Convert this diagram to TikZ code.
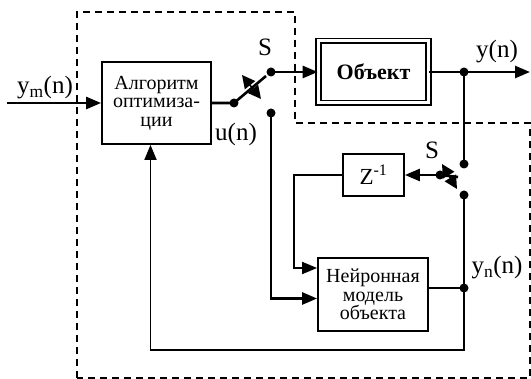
\documentclass[tikz,border=0pt]{standalone}
\usepackage{fontspec}
\setmainfont{Liberation Serif}
\usetikzlibrary{arrows.meta}
\newcommand{\boxfont}{\fontsize{20}{18.5}\selectfont}
\newcommand{\lblfont}{\fontsize{25}{25}\selectfont}
\begin{document}
\begin{tikzpicture}[x=1pt, y=-1pt,
    >={Triangle[length=15pt, width=12pt]},
    blockbox/.style={draw, line width=1.8pt, inner sep=0pt, align=center, font=\boxfont},
    sig/.style={line width=2.6pt},
    sigthin/.style={line width=1.8pt},
    toggle/.style={line width=1.5pt, {Triangle[length=13pt, width=13pt]}-{Triangle[length=13pt, width=13pt]}},
    region/.style={dashed, line width=1.3pt, dash pattern=on 7pt off 5pt},
    lbl/.style={font=\lblfont, inner sep=0pt}]

  \useasboundingbox (0,0) rectangle (531,379);

  % === Dashed regions ===
  \draw[region] (77,378) -- (77,12) -- (295,12) -- (295,123) -- (530,123) -- (530,378) -- cycle;

  % === Blocks ===
  \node[blockbox, minimum width=109pt, minimum height=82pt] (alg) at (156.5,103)
    {Алгоритм\\оптимиза-\\ции};
  \node[blockbox, font=\fontsize{22}{22}\selectfont\bfseries, double, double distance=3pt,
    line width=1.6pt, minimum width=110pt, minimum height=62pt] (obj) at (373.5,72) {Объект};
  \node[blockbox, font=\fontsize{23}{23}\selectfont, minimum width=61pt, minimum height=42pt]
    (zinv) at (373.5,175) {Z\textsuperscript{-1}};
  \node[blockbox, minimum width=110pt, minimum height=73pt] (nm) at (373,294.5)
    {Нейронная\\модель\\объекта};

  % === Switch contacts ===
  \coordinate (in) at (7,103);
  \coordinate (swA) at (234,103);
  \coordinate (swAt) at (271,72);
  \coordinate (swAb) at (271,113);
  \coordinate (swAe) at (266,76);
  \coordinate (tap) at (464,72);
  \coordinate (yout) at (530,72);
  \coordinate (swBt) at (464,164);
  \coordinate (swBl) at (440,175);
  \coordinate (swBb) at (464,195);
  \coordinate (swBe) at (458,177);
  \coordinate (tapn) at (464,288);
  \coordinate (fb) at (464,350);

  % === Connectors ===
  \draw[sig,->] (in) -- (alg.west);
  \draw[sig] (alg.east) -- (swA) -- (swAe);
  \draw[toggle] (242,75) -- (261,99);
  \draw[sig,->] (swAt) -- (obj.west);
  \draw[sig] (obj.east) -- (tap);
  \draw[sig,->] (tap) -- (yout);
  \draw[sig] (tap) -- (swBt);
  \draw[sig,->] (swBl) -- (zinv.east);
  \draw[sig] (swBl) -- (swBe);
  \draw[toggle] (442,164) -- (457,189);
  \draw[sigthin,->] (zinv.west) -- ++(-48,0) |- ([yshift=26.5pt]nm.west);
  \draw[sig,->] (swAb) |- ([yshift=-4pt]nm.west);
  \draw[sigthin] ([yshift=6.5pt]nm.east) -- (tapn);
  \draw[sig] (swBb) -- (tapn);
  \draw[sigthin,->] (tapn) -- (fb) -| ([xshift=-6pt]alg.south);

  % === Contact dots ===
  \foreach \pt in {swA, swAt, swAb, tap, swBt, swBl, swBb, tapn}
    \fill (\pt) circle (4.5pt);

  % === Labels ===
  \node[lbl] at (45,88) {y\textsubscript{m}(n)};
  \node[lbl] at (265,47) {S};
  \node[lbl] at (236,134) {u(n)};
  \node[lbl] at (497,52) {y(n)};
  \node[lbl] at (432,150) {S};
  \node[lbl] at (497,268) {y\textsubscript{n}(n)};

\end{tikzpicture}
\end{document}
